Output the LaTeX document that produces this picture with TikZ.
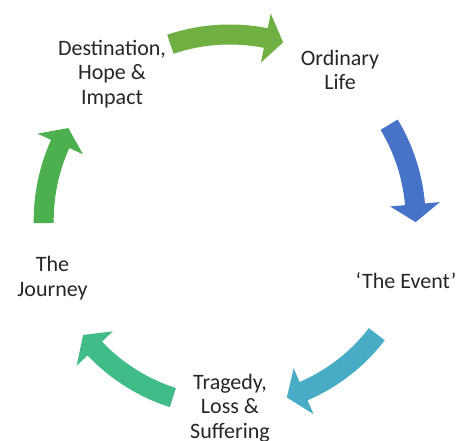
\documentclass[tikz,border=0pt]{standalone}
\usepackage{fontspec}
\setmainfont{Carlito}
\usetikzlibrary{calc}
\definecolor{topgreen}{RGB}{112,176,66}
\definecolor{eventblue}{RGB}{70,114,200}
\definecolor{losscyan}{RGB}{72,172,198}
\definecolor{journeyteal}{RGB}{64,188,136}
\definecolor{hopegreen}{RGB}{76,176,78}

\begin{document}
\begin{tikzpicture}[x=1pt, y=1pt, lbl/.style={align=center, text=black!85, font=\fontsize{22}{24.5}\selectfont}]
\useasboundingbox (0,0) rectangle (461,441);
\coordinate (c) at (229.7,220.5);
\foreach \ta/\tp/\col in {108.6/73.3/topgreen, 31/-0.5/eventblue, -37.7/-72.1/losscyan, 252.2/218/journeyteal, 180.8/150.2/hopegreen} {
 \pgfmathsetmacro{\hb}{\tp+5.5}
 \fill[\col] ($(c)+(\ta:196)$) arc[start angle=\ta, end angle=\hb, radius=196] -- ($(c)+(\hb:211)$) -- ($(c)+(\tp:186)$) -- ($(c)+(\hb:161)$) -- ($(c)+(\hb:176)$) arc[start angle=\hb, end angle=\ta, radius=176] -- cycle;
}
\node[lbl] (dest) at (112,367) {Destination,\\Hope \&\\Impact};
\node[lbl] (ordinary) at (340,371) {Ordinary\\Life};
\node[lbl] (event) at (406,160) {‘The Event’};
\node[lbl] (tragedy) at (230,33) {Tragedy,\\Loss \&\\Suffering};
\node[lbl] (journey) at (52.5,163) {The\\Journey};
\end{tikzpicture}
\end{document}
